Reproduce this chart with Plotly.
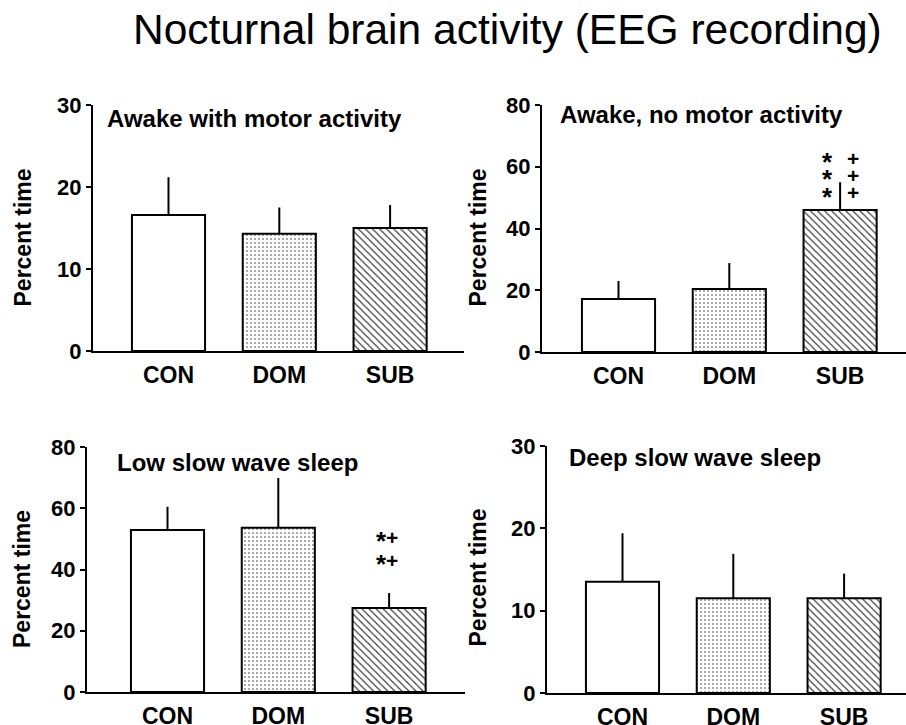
import plotly.graph_objects as go

W, H = 906, 725

categories = ["CON", "DOM", "SUB"]

titles = ["Awake with motor activity", "Awake, no motor activity",
          "Low slow wave sleep", "Deep slow wave sleep"]

means_awake_motor = [16.6, 14.3, 15.0]
sem_awake_motor = [4.6, 3.2, 2.8]

means_awake_nomotor = [17.2, 20.4, 46.0]
sem_awake_nomotor = [5.8, 8.4, 9.0]

means_low_sws = [52.9, 53.6, 27.4]
sem_low_sws = [7.6, 16.3, 4.9]

means_deep_sws = [13.5, 11.5, 11.5]
sem_deep_sws = [5.9, 5.4, 3.0]

y_max = [30, 80, 80, 30]
y_dtick = [10, 20, 20, 10]

# significance marks (rows of [vs CON, vs DOM])
sig_awake_nomotor = [["*", "+"], ["*", "+"], ["*", "+"]]
sig_low_sws = [["*", "+"], ["*", "+"]]

means = [means_awake_motor, means_awake_nomotor, means_low_sws, means_deep_sws]
sems = [sem_awake_motor, sem_awake_nomotor, sem_low_sws, sem_deep_sws]

# layout in pixels: (axis x, right end x, top y, bottom y, first bar centre x)
panels_px = [
    (93, 464, 105, 351, 168.5),
    (542, 906, 105, 352, 618.5),
    (87, 465, 447, 692, 167.5),
    (547, 906, 446, 693, 622.5),
]
bar_spacing_px = 110.8
bar_width = 0.66

FONT = "Liberation Sans, Arial, Helvetica, sans-serif"

fills = [
    None,
    dict(shape=".", size=4, solidity=0.12, fgcolor="#333333", bgcolor="white"),
    dict(shape="\\", size=5, solidity=0.22, fgcolor="#333333", bgcolor="white"),
]

fig = go.Figure()
layout = dict(
    template="none",
    width=W, height=H, margin=dict(l=0, r=0, t=0, b=0, autoexpand=False),
    paper_bgcolor="white", plot_bgcolor="white", showlegend=False,
    font=dict(family=FONT, color="black"),
)
annotations = []

for i in range(4):
    ax_x, right_x, top_y, bot_y, c0 = panels_px[i]
    xmin = -(c0 - ax_x) / bar_spacing_px
    xmax = xmin + (right_x - ax_x) / bar_spacing_px
    xa = "x" if i == 0 else f"x{i+1}"
    ya = "y" if i == 0 else f"y{i+1}"
    xkey = "xaxis" if i == 0 else f"xaxis{i+1}"
    ykey = "yaxis" if i == 0 else f"yaxis{i+1}"

    for j in range(3):
        marker = dict(color="white", line=dict(color="black", width=2))
        if fills[j] is not None:
            marker["pattern"] = fills[j]
        fig.add_trace(go.Bar(
            x=[j], y=[means[i][j]], width=bar_width, marker=marker,
            error_y=dict(type="data", symmetric=False, array=[sems[i][j]],
                         arrayminus=[0], color="black", thickness=2, width=0),
            xaxis=xa, yaxis=ya, hoverinfo="skip",
        ))

    layout[xkey] = dict(
        domain=[ax_x / W, right_x / W], range=[xmin, xmax],
        tickmode="array", tickvals=[0, 1, 2], ticktext=categories,
        showline=True, linecolor="black", linewidth=2,
        ticks="", automargin=False, ticklabelstandoff=2,
        tickfont=dict(family=FONT, size=23, weight="bold", color="black"),
        showgrid=False, zeroline=False, anchor=ya, fixedrange=True,
    )
    layout[ykey] = dict(
        domain=[1 - bot_y / H, 1 - top_y / H], range=[0, y_max[i]],
        dtick=y_dtick[i], tick0=0, automargin=False,
        showline=True, linecolor="black", linewidth=2,
        ticks="outside", ticklen=5, tickwidth=2, tickcolor="black",
        tickfont=dict(family=FONT, size=22, weight="bold", color="black"),
        showgrid=False, zeroline=False, anchor=xa, fixedrange=True,
    )

# axis titles
ytitle_px = [(22, 237.5), (477, 237.5), (22, 579), (477, 577.5)]
for (px, py) in ytitle_px:
    annotations.append(dict(
        x=px / W, y=1 - py / H, xref="paper", yref="paper",
        text="Percent time", textangle=-90, showarrow=False,
        font=dict(family=FONT, size=23, weight="bold", color="black"),
        xanchor="center", yanchor="middle",
    ))

# panel titles
ptitle_px = [(105, 118), (558, 115), (115, 462), (567, 458)]
for k, (px, py) in enumerate(ptitle_px):
    annotations.append(dict(
        x=px / W, y=1 - py / H, xref="paper", yref="paper",
        text=titles[k], showarrow=False,
        font=dict(family=FONT, size=24, weight="bold", color="black"),
        xanchor="left", yanchor="middle",
    ))

# significance marks, panel 2 (SUB bar)
rows_y2 = [62.8, 57.3, 51.5]
for r, row in enumerate(sig_awake_nomotor):
    annotations.append(dict(x=1.89, y=rows_y2[r], xref="x2", yref="y2",
                            text=row[0], showarrow=False, yshift=-4,
                            font=dict(family=FONT, size=26, weight="bold", color="black")))
    annotations.append(dict(x=2.12, y=rows_y2[r], xref="x2", yref="y2",
                            text=row[1], showarrow=False,
                            font=dict(family=FONT, size=21, weight="bold", color="black")))

rows_y3 = [50.6, 43.1]
for r, row in enumerate(sig_low_sws):
    annotations.append(dict(x=1.93, y=rows_y3[r], xref="x3", yref="y3",
                            text=row[0], showarrow=False, yshift=-4,
                            font=dict(family=FONT, size=26, weight="bold", color="black")))
    annotations.append(dict(x=2.03, y=rows_y3[r], xref="x3", yref="y3",
                            text=row[1], showarrow=False,
                            font=dict(family=FONT, size=21, weight="bold", color="black")))

# main title
annotations.append(dict(
    x=507 / W, y=1 - 29 / H, xref="paper", yref="paper",
    text="Nocturnal brain activity (EEG recording)", showarrow=False,
    font=dict(family=FONT, size=42.5, color="black"),
    xanchor="center", yanchor="middle",
))

layout["annotations"] = annotations
fig.update_layout(**layout)
fig.write_html("out.html", config={"displayModeBar": False, "staticPlot": True},
               post_script="document.body.style.margin='0';document.body.style.overflow='hidden';")
